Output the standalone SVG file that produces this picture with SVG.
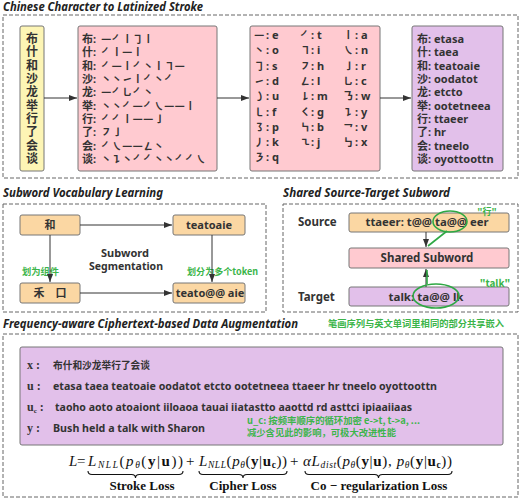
<svg xmlns="http://www.w3.org/2000/svg" width="521" height="500" viewBox="0 0 521 500">
<defs>
<marker id="ah" markerWidth="8" markerHeight="6" refX="8" refY="3" orient="auto" markerUnits="userSpaceOnUse"><path d="M0,0 L8,3 L0,6 z" fill="#333"/></marker>
<style>
.dash{fill:none;stroke:#666;stroke-width:1;stroke-dasharray:4 2}
.title{font-family:"Noto Sans","Noto Sans CJK SC",sans-serif;font-weight:bold;font-style:italic;font-size:11.5px;fill:#222}
.t{font-family:"Noto Sans","Noto Sans CJK SC",sans-serif;font-weight:bold;font-size:11px;fill:#333}
.s{font-family:"Noto Sans CJK SC",sans-serif;font-weight:bold;font-size:10.5px;fill:#333}
.c{text-anchor:middle}
.g{font-family:"Noto Sans CJK SC","Noto Sans",sans-serif;font-weight:bold;font-size:9px;fill:#3cb54a}
.m{font-family:"Liberation Serif",serif;font-size:15px;fill:#111}
.mb{font-family:"Liberation Serif",serif;font-size:13px;font-weight:bold;fill:#111;text-anchor:middle}
.lab{font-family:"Liberation Serif",serif;font-weight:bold;font-size:12px;fill:#333}
.yel{fill:#fdf5b5;stroke:#777;stroke-width:1}
.pink{fill:#ffcad0;stroke:#777;stroke-width:1}
.pur{fill:#e2c0ea;stroke:#777;stroke-width:1}
.org{fill:#fbd7a3;stroke:#777;stroke-width:1}
.conn line{stroke:#333;stroke-width:1;marker-end:url(#ah)}
.gl{fill:none;stroke:#2ea844;stroke-width:1.6}
.brace{fill:none;stroke:#111;stroke-width:1.1}
</style>
</defs>
<rect width="521" height="500" fill="#fff"/>

<!-- Section 1 -->
<text class="title" x="3" y="11" textLength="200" lengthAdjust="spacingAndGlyphs">Chinese Character to Latinized Stroke</text>
<rect class="dash" x="3" y="15" width="515" height="163"/>

<g id="chars">
<rect class="yel" x="20" y="26" width="24" height="145" rx="2"/>
<text class="t c" x="32" y="43" style="font-size:12px">布</text>
<text class="t c" x="32" y="56.3" style="font-size:12px">什</text>
<text class="t c" x="32" y="69.7" style="font-size:12px">和</text>
<text class="t c" x="32" y="83" style="font-size:12px">沙</text>
<text class="t c" x="32" y="96.3" style="font-size:12px">龙</text>
<text class="t c" x="32" y="109.7" style="font-size:12px">举</text>
<text class="t c" x="32" y="123" style="font-size:12px">行</text>
<text class="t c" x="32" y="136.3" style="font-size:12px">了</text>
<text class="t c" x="32" y="149.7" style="font-size:12px">会</text>
<text class="t c" x="32" y="163" style="font-size:12px">谈</text>
</g>

<g id="strokes">
<rect class="pink" x="78" y="26" width="139" height="145" rx="2"/>
<text class="t" x="82" y="43">布:</text><text class="s" x="101" y="43">㇐㇒㇑㇆㇑</text>
<text class="t" x="82" y="56.3">什:</text><text class="s" x="101" y="56.3">㇒㇑㇐㇑</text>
<text class="t" x="82" y="69.7">和:</text><text class="s" x="101" y="69.7">㇒㇐㇑㇒㇔㇑㇕㇐</text>
<text class="t" x="82" y="83">沙:</text><text class="s" x="101" y="83">㇔㇔㇀㇑㇒㇔㇒</text>
<text class="t" x="82" y="96.3">龙:</text><text class="s" x="101" y="96.3">㇐㇒㇟㇒㇔</text>
<text class="t" x="82" y="109.7">举:</text><text class="s" x="101" y="109.7">㇔㇔㇒㇐㇒㇏㇐㇐㇑</text>
<text class="t" x="82" y="123">行:</text><text class="s" x="101" y="123">㇒㇒㇑㇐㇐㇚</text>
<text class="t" x="82" y="136.3">了:</text><text class="s" x="101" y="136.3">㇇㇚</text>
<text class="t" x="82" y="149.7">会:</text><text class="s" x="101" y="149.7">㇒㇏㇐㇐㇜㇔</text>
<text class="t" x="82" y="163">谈:</text><text class="s" x="101" y="163">㇔㇊㇔㇒㇒㇔㇔㇒㇒㇏</text>
</g>

<g id="table">
<rect class="pink" x="250" y="26" width="130" height="145" rx="2"/>
<text class="s" x="254" y="39">㇐</text><text class="t" x="266" y="39">: e</text>
<text class="s" x="300" y="39">㇒</text><text class="t" x="311" y="39">: t</text>
<text class="s" x="343" y="39">㇑</text><text class="t" x="355" y="39">: a</text>
<text class="s" x="254" y="54.3">㇔</text><text class="t" x="266" y="54.3">: o</text>
<text class="s" x="300" y="54.3">㇕</text><text class="t" x="311" y="54.3">: i</text>
<text class="s" x="343" y="54.3">㇏</text><text class="t" x="355" y="54.3">: n</text>
<text class="s" x="254" y="69.6">㇆</text><text class="t" x="266" y="69.6">: s</text>
<text class="s" x="300" y="69.6">㇇</text><text class="t" x="311" y="69.6">: h</text>
<text class="s" x="343" y="69.6">㇚</text><text class="t" x="355" y="69.6">: r</text>
<text class="s" x="254" y="84.9">㇀</text><text class="t" x="266" y="84.9">: d</text>
<text class="s" x="300" y="84.9">㇜</text><text class="t" x="311" y="84.9">: l</text>
<text class="s" x="343" y="84.9">㇟</text><text class="t" x="355" y="84.9">: c</text>
<text class="s" x="254" y="100.2">㇁</text><text class="t" x="266" y="100.2">: u</text>
<text class="s" x="300" y="100.2">㇙</text><text class="t" x="311" y="100.2">: m</text>
<text class="s" x="343" y="100.2">㇡</text><text class="t" x="355" y="100.2">: w</text>
<text class="s" x="254" y="115.5">㇄</text><text class="t" x="266" y="115.5">: f</text>
<text class="s" x="300" y="115.5">㇛</text><text class="t" x="311" y="115.5">: g</text>
<text class="s" x="343" y="115.5">㇊</text><text class="t" x="355" y="115.5">: y</text>
<text class="s" x="254" y="130.8">㇌</text><text class="t" x="266" y="130.8">: p</text>
<text class="s" x="300" y="130.8">㇞</text><text class="t" x="311" y="130.8">: b</text>
<text class="s" x="343" y="130.8">㇖</text><text class="t" x="355" y="130.8">: v</text>
<text class="s" x="254" y="146.1">㇓</text><text class="t" x="266" y="146.1">: k</text>
<text class="s" x="300" y="146.1">㇍</text><text class="t" x="311" y="146.1">: j</text>
<text class="s" x="343" y="146.1">㇉</text><text class="t" x="355" y="146.1">: x</text>
<text class="s" x="254" y="161.4">㇋</text><text class="t" x="266" y="161.4">: q</text>
</g>

<g id="latin">
<rect class="pur" x="412" y="26" width="91" height="145" rx="2"/>
<text class="t" x="417" y="43">布: etasa</text>
<text class="t" x="417" y="56.3">什: taea</text>
<text class="t" x="417" y="69.7">和: teatoaie</text>
<text class="t" x="417" y="83">沙: oodatot</text>
<text class="t" x="417" y="96.3">龙: etcto</text>
<text class="t" x="417" y="109.7">举: ootetneea</text>
<text class="t" x="417" y="123">行: ttaeer</text>
<text class="t" x="417" y="136.3">了: hr</text>
<text class="t" x="417" y="149.7">会: tneelo</text>
<text class="t" x="417" y="163">谈: oyottoottn</text>
</g>

<!-- Section 2 -->
<text class="title" x="3" y="197" textLength="160" lengthAdjust="spacingAndGlyphs">Subword Vocabulary Learning</text>
<rect class="dash" x="3" y="204" width="263" height="108"/>
<g id="n-he"><rect class="org" x="20" y="215" width="60" height="20" rx="2"/><text class="t c" x="50" y="229">和</text></g>
<g id="n-teatoaie"><rect class="org" x="173" y="215" width="72" height="20" rx="2"/><text class="t c" x="209" y="229">teatoaie</text></g>
<g id="n-hekou"><rect class="org" x="20" y="283" width="60" height="20" rx="2"/><text class="t c" x="50" y="297">禾　口</text></g>
<g id="n-teato"><rect class="org" x="173" y="283" width="72" height="20" rx="2"/><text class="t c" x="210" y="297">teato@@ aie</text></g>
<text class="t c" x="125" y="256.5" style="font-size:11px">Subword</text>
<text class="t c" x="126" y="270" style="font-size:11px" textLength="74" lengthAdjust="spacingAndGlyphs">Segmentation</text>
<text class="g" x="22" y="274.5" textLength="37" lengthAdjust="spacingAndGlyphs">划为组件</text>
<text class="g" x="187" y="274.5" textLength="71" lengthAdjust="spacingAndGlyphs">划分为多个token</text>

<!-- Section 3 -->
<text class="title" x="283" y="197" textLength="167" lengthAdjust="spacingAndGlyphs">Shared Source-Target Subword</text>
<rect class="dash" x="283" y="204" width="235" height="108"/>
<text class="t" x="298" y="226" style="font-size:11.5px">Source</text>
<text class="t" x="298" y="301" style="font-size:11.5px">Target</text>
<g id="n-source"><rect class="org" x="349" y="213" width="160" height="19" rx="2"/><text class="t c" x="427" y="226" textLength="123" lengthAdjust="spacingAndGlyphs">ttaeer:  t@@ ta@@ eer</text></g>
<g id="n-shared"><rect class="pink" x="349" y="248" width="160" height="20" rx="2"/><text class="t c" x="427" y="262" style="font-size:11.5px">Shared Subword</text></g>
<g id="n-target"><rect class="pur" x="349" y="287" width="160" height="19" rx="2"/><text class="t c" x="426" y="301" textLength="75" lengthAdjust="spacingAndGlyphs">talk:  ta@@ lk</text></g>

<!-- Connectors -->
<g id="connectors" class="conn">
<line x1="44" y1="98" x2="77" y2="98"/>
<line x1="217" y1="98" x2="249" y2="98"/>
<line x1="380" y1="98" x2="411" y2="98"/>
<line x1="80" y1="225" x2="172" y2="225"/>
<line x1="80" y1="293" x2="172" y2="293"/>
<line x1="50" y1="235" x2="50" y2="282"/>
<line x1="212" y1="235" x2="212" y2="282"/>
<line x1="426" y1="232" x2="426" y2="247"/>
<line x1="426" y1="287" x2="426" y2="269"/>
</g>

<g id="annotations">
<ellipse class="gl" cx="450" cy="221.5" rx="17" ry="10.5"/>
<line class="gl" x1="447" y1="231" x2="428" y2="246"/>
<ellipse class="gl" cx="436" cy="296" rx="23" ry="12"/>
<line class="gl" x1="427" y1="270" x2="427" y2="284"/>
<text class="g" x="487" y="215" text-anchor="middle">"行"</text>
<text class="g" x="495" y="287" text-anchor="middle" style="font-size:10px">"talk"</text>
<text class="g" x="328" y="327" textLength="176" lengthAdjust="spacingAndGlyphs">笔画序列与英文单词里相同的部分共享嵌入</text>
</g>

<!-- Section 4 -->
<text class="title" x="3" y="328" textLength="295" lengthAdjust="spacingAndGlyphs">Frequency-aware Ciphertext-based Data Augmentation</text>
<rect class="dash" x="3" y="334" width="515" height="163"/>
<g id="sentences">
<rect class="pur" x="20" y="347" width="483" height="98" rx="2"/>
<text class="lab" x="27" y="369">x :</text>
<text class="t" x="53" y="369" style="font-size:10px" textLength="97" lengthAdjust="spacingAndGlyphs">布什和沙龙举行了会谈</text>
<text class="lab" x="27" y="390">u :</text>
<text class="t" x="53" y="390" textLength="384" lengthAdjust="spacingAndGlyphs">etasa taea teatoaie oodatot etcto ootetneea ttaeer hr tneelo oyottoottn</text>
<text class="lab" x="27" y="411">u<tspan font-size="7" dy="2">c</tspan><tspan dy="-2"> :</tspan></text>
<text class="t" x="55" y="411" textLength="357" lengthAdjust="spacingAndGlyphs">taoho aoto atoaiont iiloaoa tauai iiatastto aaottd rd asttci ipiaaiiaas</text>
<text class="lab" x="27" y="432">y :</text>
<text class="t" x="53" y="432" textLength="152" lengthAdjust="spacingAndGlyphs">Bush held a talk with Sharon</text>
<text class="g" x="247" y="424" textLength="173" lengthAdjust="spacingAndGlyphs">u_c: 按频率顺序的循环加密 e-&gt;t, t-&gt;a, ...</text>
<text class="g" x="247" y="435.5" textLength="149" lengthAdjust="spacingAndGlyphs">减少含见此的影响，可极大改进性能</text>
</g>

<g id="formula">
<text class="m" x="69" y="466" font-style="italic">L</text>
<text class="m" x="77" y="466">=</text>
<text class="m" x="88" y="466" textLength="95" lengthAdjust="spacing"><tspan font-style="italic">L</tspan><tspan font-style="italic" font-size="9.5" dy="2">NLL</tspan><tspan dy="-2">(</tspan><tspan font-style="italic">p</tspan><tspan font-style="italic" font-size="9.5" dy="2">θ</tspan><tspan dy="-2">(</tspan><tspan font-weight="bold">y</tspan>|<tspan font-weight="bold">u</tspan>))</text>
<text class="m" x="186" y="466">+</text>
<text class="m" x="199" y="466" textLength="88" lengthAdjust="spacing"><tspan font-style="italic">L</tspan><tspan font-style="italic" font-size="9.5" dy="2">NLL</tspan><tspan dy="-2">(</tspan><tspan font-style="italic">p</tspan><tspan font-style="italic" font-size="9.5" dy="2">θ</tspan><tspan dy="-2">(</tspan><tspan font-weight="bold">y</tspan>|<tspan font-weight="bold">u</tspan><tspan font-weight="bold" font-size="9.5" dy="2">c</tspan><tspan dy="-2">))</tspan></text>
<text class="m" x="290" y="466">+</text>
<text class="m" x="303" y="466" textLength="149" lengthAdjust="spacing"><tspan font-style="italic">αL</tspan><tspan font-style="italic" font-size="9.5" dy="2">dist</tspan><tspan dy="-2">(</tspan><tspan font-style="italic">p</tspan><tspan font-style="italic" font-size="9.5" dy="2">θ</tspan><tspan dy="-2">(</tspan><tspan font-weight="bold">y</tspan>|<tspan font-weight="bold">u</tspan>), <tspan font-style="italic">p</tspan><tspan font-style="italic" font-size="9.5" dy="2">θ</tspan><tspan dy="-2">(</tspan><tspan font-weight="bold">y</tspan>|<tspan font-weight="bold">u</tspan><tspan font-weight="bold" font-size="9.5" dy="2">c</tspan><tspan dy="-2">))</tspan></text>
<path class="brace" d="M88,471 q0,3.5 4,3.5 H131.5 q4,0 4,3.5 q0,-3.5 4,-3.5 H179 q4,0 4,-3.5"/>
<path class="brace" d="M199,471 q0,3.5 4,3.5 H239 q4,0 4,3.5 q0,-3.5 4,-3.5 H283 q4,0 4,-3.5"/>
<path class="brace" d="M305,471 q0,3.5 4,3.5 H374.5 q4,0 4,3.5 q0,-3.5 4,-3.5 H448 q4,0 4,-3.5"/>
<text class="mb" x="142" y="490">Stroke Loss</text>
<text class="mb" x="243" y="490">Cipher Loss</text>
<text class="mb" x="379" y="490">Co − regularization Loss</text>
</g>
</svg>
